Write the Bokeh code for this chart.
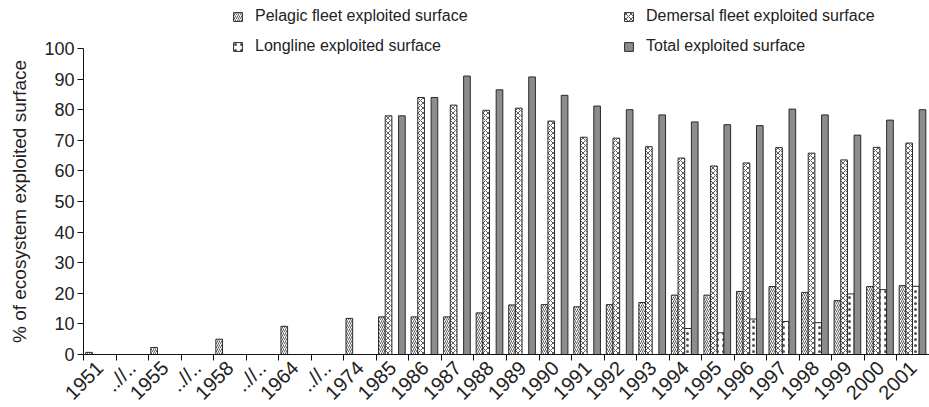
from math import pi
from bokeh.plotting import figure
from bokeh.models import ColumnDataSource, Range1d, FixedTicker, Legend, LegendItem
from bokeh.embed import file_html
from bokeh.resources import INLINE

categories = ["1951", "..//..", "1955", "..//..", "1958", "..//..", "1964", "..//..", "1974",
              "1985", "1986", "1987", "1988", "1989", "1990", "1991", "1992", "1993",
              "1994", "1995", "1996", "1997", "1998", "1999", "2000", "2001"]

pelagic = [0.7, None, 2.3, None, 5.0, None, 9.2, None, 11.8,
           12.3, 12.3, 12.3, 13.6, 16.2, 16.3, 15.6, 16.3, 17.0,
           19.4, 19.4, 20.6, 22.2, 20.3, 17.6, 22.2, 22.5]

demersal = [None] * 9 + [78.0, 84.0, 81.5, 79.8, 80.5, 76.3, 71.0, 70.7, 67.9,
                         64.2, 61.6, 62.6, 67.6, 65.8, 63.6, 67.7, 69.1]

longline = [None] * 18 + [8.5, 7.1, 11.6, 10.8, 10.4, 19.8, 21.2, 22.3]

total = [None] * 9 + [78.0, 84.0, 91.0, 86.5, 90.7, 84.7, 81.2, 80.0, 78.3,
                      76.0, 75.1, 74.8, 80.2, 78.3, 71.7, 76.6, 80.0]

series_labels = ["Pelagic fleet exploited surface", "Demersal fleet exploited surface",
                 "Longline exploited surface", "Total exploited surface"]

n = len(categories)

p = figure(width=929, height=407, x_range=Range1d(-3.051, n - 0.5), y_range=Range1d(-17.32, 115.69),
           output_backend="svg", toolbar_location=None,
           min_border_left=0, min_border_right=0, min_border_top=0, min_border_bottom=0)
p.outline_line_color = None
p.xgrid.visible = False
p.ygrid.visible = False
p.background_fill_color = "white"

BAR_W = 0.205
OFFSETS = [-0.33, -0.125, 0.08, 0.285]


def make_source(vals, k):
    xs, tops = [], []
    for i, v in enumerate(vals):
        if v is not None:
            xs.append(i + OFFSETS[k])
            tops.append(v)
    return ColumnDataSource(data=dict(x=xs, top=tops))


common = dict(width=BAR_W, bottom=0, line_color="#2a2a2a", line_width=1)
r_pel = p.vbar(x="x", top="top", source=make_source(pelagic, 0), fill_color="white",
               hatch_pattern="/", hatch_color="#333333", hatch_scale=4, hatch_weight=0.8, **common)
r_dem = p.vbar(x="x", top="top", source=make_source(demersal, 1), fill_color="white",
               hatch_pattern="x", hatch_color="#333333", hatch_scale=5, hatch_weight=0.8, **common)
r_lon = p.vbar(x="x", top="top", source=make_source(longline, 2), fill_color="white",
               hatch_pattern=".", hatch_color="#555555", hatch_scale=6, hatch_weight=0.8, **common)
r_tot = p.vbar(x="x", top="top", source=make_source(total, 3), fill_color="#8c8c8c", **common)

# x axis, drawn at y = 0 inside the frame
xa = p.xaxis[0]
xa.fixed_location = 0
xa.bounds = (-0.5, n - 0.5)
xa.ticker = FixedTicker(ticks=list(range(n)), minor_ticks=[i - 0.5 for i in range(n + 1)])
xa.major_label_overrides = {i: lab for i, lab in enumerate(categories)}
xa.major_tick_out = 0
xa.major_tick_in = 0
xa.minor_tick_out = 6
xa.minor_tick_in = 0
xa.minor_tick_line_color = "#111111"
xa.axis_line_color = "#111111"
xa.major_label_orientation = pi / 4
xa.major_label_text_font = "Liberation Sans"
xa.major_label_text_font_size = "20px"
xa.major_label_text_color = "#222222"
xa.major_label_standoff = 4

# y axis, drawn at the left edge of the first category
ya = p.yaxis[0]
ya.fixed_location = -0.5
ya.ticker = FixedTicker(ticks=list(range(0, 101, 10)))
ya.bounds = (0, 100)
ya.major_tick_out = 6
ya.major_tick_in = 0
ya.minor_tick_out = 0
ya.minor_tick_in = 0
ya.axis_line_color = "#111111"
ya.major_tick_line_color = "#111111"
ya.major_label_standoff = 3
ya.major_label_text_font = "Liberation Sans"
ya.major_label_text_font_size = "18px"
ya.major_label_text_color = "#222222"
ya.axis_label = "% of ecosystem exploited surface"
ya.axis_label_text_font = "Liberation Sans"
ya.axis_label_text_font_size = "19px"
ya.axis_label_text_font_style = "normal"
ya.axis_label_text_color = "#222222"
ya.axis_label_standoff = 11


def make_legend(items, x):
    lg = Legend(items=items, location=(x, 352), orientation="vertical",
                padding=0, margin=0, spacing=12, border_line_color=None,
                background_fill_alpha=0, glyph_width=11, glyph_height=11,
                label_height=14, label_standoff=12,
                label_text_font="Liberation Sans", label_text_font_size="16px",
                label_text_color="#222222")
    return lg


leg1 = make_legend([LegendItem(label=series_labels[0], renderers=[r_pel]),
                    LegendItem(label=series_labels[2], renderers=[r_lon])], 232)
leg2 = make_legend([LegendItem(label=series_labels[1], renderers=[r_dem]),
                    LegendItem(label=series_labels[3], renderers=[r_tot])], 623)
p.add_layout(leg1, "center")
p.add_layout(leg2, "center")

open("out.html", "w").write(file_html(p, INLINE))
